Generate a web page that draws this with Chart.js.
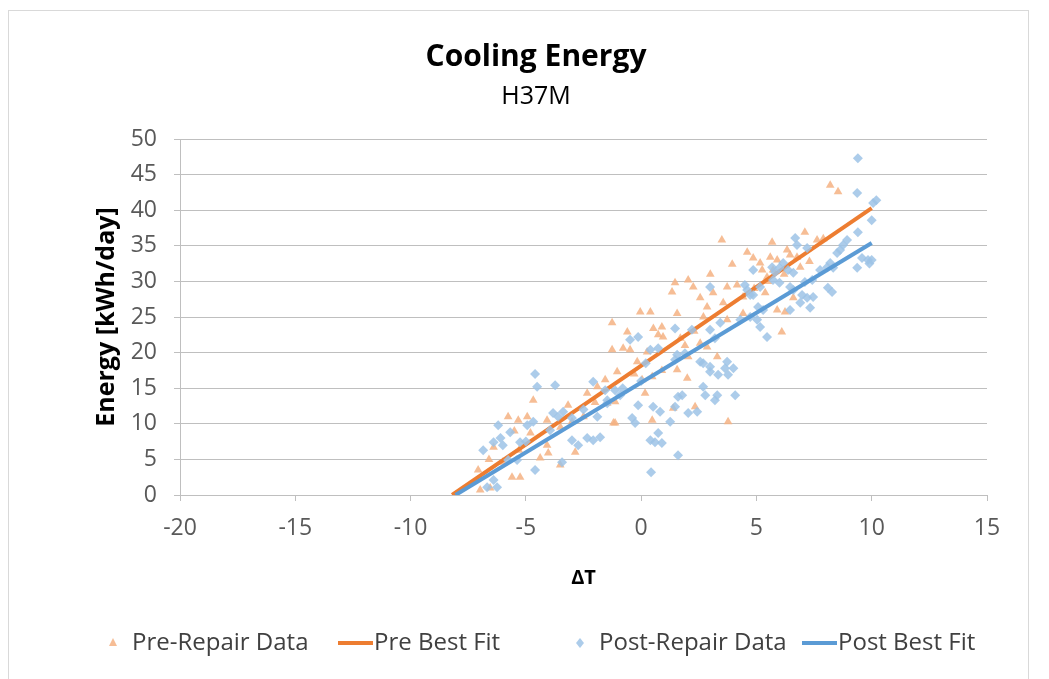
<!DOCTYPE html>
<html>
<head>
<meta charset="utf-8">
<script src="https://cdn.jsdelivr.net/npm/chart.js@4/dist/chart.umd.min.js"></script>
<style>
  html, body { margin: 0; padding: 0; background: #fff; }
  canvas { display: block; }
</style>
</head>
<body>
<canvas id="chart" width="1049" height="679"></canvas>
<script>
// Pre-repair measurements (dT, kWh/day)
const preX = [-6.98, -7.07, -6.55, -5.6, -5.25, -6.4, -6.0, -5.77, -5.33, -4.94, -4.68, -4.38, -4.08, -4.03, -4.08, -3.51, -2.86, -3.17, -2.34, -1.9, -1.2, -1.47, -4.8,
  1.34, 1.47, 2.04, 2.26, -0.04, 0.4, -1.26, 1.56, 0.53, 0.9, 0.74, 0.95, -0.6, -1.26, -0.78, -0.48, 0.26, -0.17, -1.04, -1.56, 0.04, 2.0, 0.48, -1.13, 0.17, 1.39, 2.34, 0.48, -1.13, 3.77,
  2.56, 2.86, 3.12, 3.56, 3.73, 4.16, 4.42, 3.73, 2.56, 2.86, 3.3, 2.04, 1.56,
  8.2, 8.54, 7.1, 7.63, 5.68, 4.6, 4.86, 5.16, 5.6, 5.9, 6.33, 6.46, 6.76, 5.25, 5.46, 5.72, 4.42, 5.38, 5.9, 6.24, 6.6, 6.1,
  3.5, 3.95, 3.0, 2.7, 1.7, -2.5, -3.5, -2.0, -5.5, -6.6, -5.3, 7.3, 6.9, -3.0, -0.3, 0.9, 2.3, 1.9, 4.9, 5.5, 6.2, 7.9];
const preY = [0.7, 3.5, 1.0, 2.5, 2.5, 6.7, 4.6, 11.0, 10.5, 11.0, 13.3, 5.2, 7.0, 5.9, 10.5, 4.2, 6.0, 12.6, 14.3, 15.2, 10.1, 12.9, 8.7,
  28.5, 29.8, 30.2, 29.2, 25.7, 25.7, 24.2, 25.5, 23.4, 23.6, 22.5, 22.2, 22.9, 20.4, 20.6, 20.4, 20.1, 18.7, 17.3, 16.2, 16.2, 16.4, 16.6, 13.1, 14.3, 12.2, 12.4, 10.5, 10.1, 10.3,
  27.7, 26.4, 28.4, 27.0, 29.2, 29.5, 25.5, 24.6, 21.3, 20.8, 19.4, 19.4, 17.6,
  43.5, 42.6, 36.9, 35.8, 35.5, 34.1, 33.3, 32.6, 33.4, 33.0, 34.4, 33.7, 33.4, 31.6, 30.6, 31.6, 27.8, 28.4, 26.0, 25.7, 27.7, 22.9,
  35.8, 32.4, 31.0, 25.0, 22.0, 11.0, 9.5, 13.0, 9.0, 5.0, 6.3, 32.8, 32.0, 10.3, 17.0, 17.5, 23.0, 21.0, 29.0, 30.0, 31.0, 36.0];

// Post-repair measurements
const postX = [-6.85, -6.2, -6.4, -6.1, -6.0, -5.68, -5.25, -5.77, -6.25, -6.4, -4.51, -3.73, -4.6, -4.68, -4.94, -3.82, -3.6, -3.38, -3.95, -3.0, -2.73, -2.34, -2.08, -3.0, -2.08, -1.56, -1.47, -1.9, -3.43, -5.38, -6.68, -4.6,
  2.99, 4.6, 4.86, 5.07, 2.99, 3.2, 2.2, 1.47, -0.48, -0.13, 0.4, 0.74, 1.56, 1.47, 1.9, 2.56, 2.69, 2.99, 3.73, 3.64, 4.0, 3.34, 3.77, 2.99, 2.69, 2.78, 3.3, 3.2, 4.08, 1.6, 1.78, 1.47, 2.04, 2.43, 0.52, 0.82, -0.13, -0.39, -0.26, 1.26, 0.74, 0.4, 0.6, 0.9, 1.6, -1.78, -1.13, -0.91, -1.47, 4.3, 3.43, 0.43,
  9.37, 10.2, 10.06, 10.0, 9.4, 6.68, 8.93, 8.76, 8.63, 9.58, 9.84, 9.37, 8.2, 8.33, 8.5, 7.2, 6.76, 4.86, 5.68, 5.81, 6.0, 6.16, 6.37, 6.6, 5.72, 6.0, 5.16, 4.5, 4.73, 6.46, 6.6, 7.1, 7.42, 7.76, 8.07, 8.1, 8.28, 6.98, 7.2, 7.46, 6.9, 7.33, 5.29, 5.03, 5.16, 5.46, 4.73, 6.46, 9.4, 10.0, 9.9, 0.0, -0.8, 0.2, -2.5, -5.0];
const postY = [6.3, 9.8, 7.4, 8.0, 7.0, 8.8, 7.4, 4.9, 1.1, 2.1, 15.2, 15.4, 3.5, 10.3, 9.8, 11.5, 11.0, 11.7, 9.1, 7.7, 7.0, 8.0, 7.7, 10.8, 15.9, 14.7, 12.9, 11.0, 4.6, 4.9, 1.1, 17.0,
  29.2, 28.8, 28.1, 26.4, 23.2, 22.0, 23.2, 23.4, 21.8, 22.2, 20.4, 20.6, 19.7, 19.0, 19.9, 18.7, 18.5, 18.0, 18.7, 17.8, 17.8, 16.9, 16.9, 17.3, 15.2, 14.0, 14.0, 13.3, 14.0, 13.8, 14.0, 12.4, 11.5, 11.7, 12.4, 11.7, 12.6, 10.8, 10.1, 10.3, 8.7, 7.7, 7.4, 7.3, 5.6, 8.1, 14.7, 14.0, 13.3, 24.6, 24.2, 3.2,
  42.4, 41.4, 41.0, 38.6, 36.9, 36.1, 35.8, 35.1, 34.4, 33.3, 33.0, 31.9, 32.6, 31.9, 34.0, 34.7, 35.1, 31.6, 32.0, 31.3, 31.9, 32.6, 31.6, 31.2, 30.2, 29.8, 29.2, 29.5, 28.1, 29.2, 28.8, 29.9, 30.2, 31.6, 32.0, 29.1, 28.5, 28.1, 27.7, 27.8, 27.0, 26.3, 26.0, 24.6, 23.6, 22.2, 25.0, 26.0, 47.3, 33.0, 32.5, 16.0, 15.0, 18.5, 12.0, 7.5];

// best fit line end points
const preFitX = [-8.2, 10];
const preFitY = [0, 40.3];
const postFitX = [-8.05, 10];
const postFitY = [0, 35.4];

const xTicks = [-20, -15, -10, -5, 0, 5, 10, 15];
const yTicks = [0, 5, 10, 15, 20, 25, 30, 35, 40, 45, 50];

const pts = (xs, ys) => xs.map((x, i) => ({ x: x, y: ys[i] }));

const FONT = '"Open Sans", Lato, sans-serif';
const PRE_PT = 'rgba(244, 177, 131, 0.85)';
const PRE_LINE = '#ED7D31';
const POST_PT = 'rgba(157, 195, 230, 0.85)';
const POST_LINE = '#5B9BD5';

// Excel style legend + outer frame
const excelLegend = {
  id: 'excelLegend',
  beforeDraw(chart) {
    const c = chart.ctx;
    c.save();
    c.strokeStyle = '#D9D9D9';
    c.lineWidth = 1;
    c.strokeRect(8.5, 10.5, 1020, 700);
    c.restore();
  },
  afterDraw(chart) {
    const c = chart.ctx;
    const items = [
      { text: 'Pre-Repair Data', kind: 'triangle', color: PRE_PT, left: 108 },
      { text: 'Pre Best Fit', kind: 'line', color: PRE_LINE, left: 338 },
      { text: 'Post-Repair Data', kind: 'diamond', color: POST_PT, left: 575 },
      { text: 'Post Best Fit', kind: 'line', color: POST_LINE, left: 802 }
    ];
    c.save();
    c.font = '24px ' + FONT;
    c.textBaseline = 'middle';
    const y = 643;
    items.forEach(it => {
      let x = it.left;
      if (it.kind === 'line') {
        c.strokeStyle = it.color;
        c.lineWidth = 4;
        c.beginPath();
        c.moveTo(x, y);
        c.lineTo(x + 35, y);
        c.stroke();
        x += 36;
      } else {
        c.fillStyle = it.color;
        c.beginPath();
        if (it.kind === 'triangle') {
          c.moveTo(x + 5, y - 5);
          c.lineTo(x + 9, y + 3);
          c.lineTo(x + 1, y + 3);
        } else {
          c.moveTo(x + 5, y - 5);
          c.lineTo(x + 9, y);
          c.lineTo(x + 5, y + 5);
          c.lineTo(x + 1, y);
        }
        c.closePath();
        c.fill();
        x += 24;
      }
      c.fillStyle = '#404040';
      c.fillText(it.text, x, y);
    });
    c.restore();
  }
};

new Chart(document.getElementById('chart'), {
  type: 'scatter',
  data: {
    datasets: [
      {
        label: 'Pre-Repair Data',
        data: pts(preX, preY),
        pointStyle: 'triangle',
        pointRadius: 5,
        backgroundColor: PRE_PT,
        borderWidth: 0,
        order: 3
      },
      {
        label: 'Pre Best Fit',
        data: pts(preFitX, preFitY),
        showLine: true,
        borderColor: PRE_LINE,
        borderWidth: 4,
        pointRadius: 0,
        order: 2
      },
      {
        label: 'Post-Repair Data',
        data: pts(postX, postY),
        pointStyle: 'rectRot',
        pointRadius: 5,
        backgroundColor: POST_PT,
        borderWidth: 0,
        order: 1
      },
      {
        label: 'Post Best Fit',
        data: pts(postFitX, postFitY),
        showLine: true,
        borderColor: POST_LINE,
        borderWidth: 4,
        pointRadius: 0,
        order: 0
      }
    ]
  },
  options: {
    responsive: false,
    animation: false,
    layout: { padding: { left: 85, right: 62, top: 0, bottom: 79 } },
    plugins: {
      legend: { display: false },
      tooltip: { enabled: false },
      title: {
        display: true,
        text: 'Cooling Energy',
        color: '#000',
        font: { family: FONT, size: 30, weight: 'bold' },
        padding: { top: 39, bottom: 4 }
      },
      subtitle: {
        display: true,
        text: 'H37M',
        color: '#000',
        font: { family: FONT, size: 25 },
        padding: { top: 3, bottom: 27 }
      }
    },
    scales: {
      x: {
        type: 'linear',
        min: -20,
        max: 15,
        afterBuildTicks: s => { s.ticks = xTicks.map(v => ({ value: v })); },
        afterFit: s => { s.height = 105; },
        ticks: { color: '#595959', font: { family: FONT, size: 23 }, padding: 14 },
        grid: { drawOnChartArea: false, drawTicks: true, tickLength: 6, color: '#BFBFBF' },
        border: { color: '#BFBFBF' },
        title: { display: true, text: 'ΔT', color: '#000', font: { family: FONT, size: 20, weight: 'bold' }, padding: { top: 0, bottom: 10 } }
      },
      y: {
        type: 'linear',
        min: 0,
        max: 50,
        afterBuildTicks: s => { s.ticks = yTicks.map(v => ({ value: v })); },
        afterFit: s => { s.width = 95; },
        ticks: { color: '#595959', font: { family: FONT, size: 23 }, padding: 17 },
        grid: { color: '#BFBFBF', tickLength: 6 },
        border: { color: '#BFBFBF' },
        title: { display: true, text: 'Energy [kWh/day]', color: '#000', font: { family: FONT, size: 25, weight: 'bold' }, padding: { top: 7, bottom: 0 } }
      }
    }
  },
  plugins: [excelLegend]
});
</script>
</body>
</html>
